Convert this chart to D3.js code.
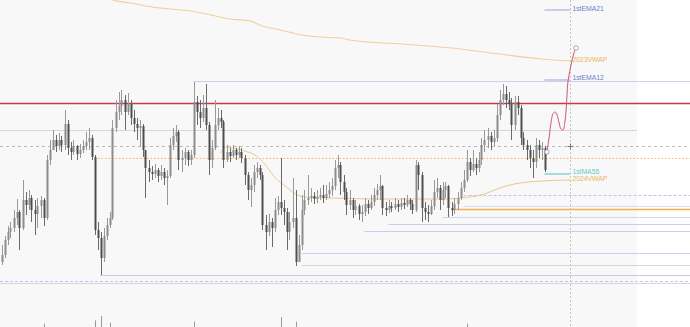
<!DOCTYPE html>
<html><head><meta charset="utf-8">
<script src="https://cdn.jsdelivr.net/npm/d3@7"></script>
<style>html,body{margin:0;padding:0;background:#fff;overflow:hidden}</style>
</head><body><svg id="c" width="690" height="327"></svg>
<script>
// ---- data (price units) ----
const open=[138,145,160,168,172,182,188,172,200,195,
202,190,186,194,200,182,240,250,260,254,
260,255,276,252,248,254,246,250,254,258,
262,243,170,162,142,164,175,182,272,288,
294,300,288,296,282,276,272,274,250,232,
228,226,230,224,228,222,224,255,264,268,
240,242,248,240,245,298,288,282,292,275,
240,252,275,282,278,240,248,244,250,245,
248,242,225,210,215,228,232,225,175,168,
178,172,190,198,192,188,168,178,182,138,
155,190,200,202,204,201,203,205,202,206,
210,214,232,235,218,208,195,200,190,194,
186,188,196,192,198,205,210,214,192,190,
194,192,196,193,197,195,200,196,190,235,
225,192,188,186,194,208,212,200,210,214,
192,190,196,202,212,220,238,230,236,232,
240,255,260,264,258,262,285,300,306,300,
296,275,298,292,262,255,250,242,238,255,
250,252];
const close=[145,160,168,172,182,188,172,200,195,202,
190,186,194,200,182,240,250,260,254,260,
255,276,252,248,254,246,250,254,258,262,
243,170,162,142,164,175,182,272,288,294,
300,288,296,282,276,272,274,250,232,228,
226,230,224,228,222,224,255,264,268,240,
242,248,240,245,298,288,282,292,275,240,
252,275,282,278,240,248,244,250,245,248,
242,225,210,215,228,232,225,175,168,178,
172,190,198,192,188,168,178,182,138,155,
190,200,202,204,201,203,205,202,206,210,
214,232,235,218,208,195,200,190,194,186,
188,196,192,198,205,210,214,192,190,194,
192,196,193,197,195,200,196,190,235,225,
192,188,186,194,208,212,200,210,214,192,
190,196,202,212,220,238,230,236,232,240,
255,260,264,258,262,285,300,306,300,296,
275,298,292,262,255,250,242,238,255,250,
252,230];
const high=[155,164,174,178,190,201,190,220,208,210,
205,200,202,204,202,245,260,270,265,267,
264,290,280,258,260,255,256,260,268,272,
265,245,178,168,172,182,188,280,300,308,
310,305,307,300,290,282,280,276,250,240,
234,236,232,235,232,230,262,272,275,270,
250,252,250,250,318,304,300,305,316,278,
260,300,292,290,280,255,252,255,252,254,
252,245,228,222,235,238,235,228,185,186,
182,202,204,242,200,192,188,222,210,165,
205,210,225,212,208,210,212,215,215,218,
222,240,245,238,225,212,210,202,200,196,
195,202,200,205,212,216,225,215,198,200,
198,202,200,202,202,205,202,200,240,238,
228,198,195,200,220,222,215,218,218,215,
198,202,208,218,230,250,242,250,242,248,
262,270,272,268,270,296,310,316,314,308,
302,304,304,295,268,260,255,250,262,260,
258,254];
const low=[135,142,155,162,168,175,150,170,185,190,
178,165,172,182,174,180,235,250,248,250,
248,250,245,240,245,240,242,247,250,250,
240,165,150,125,138,160,172,180,268,280,
285,270,285,275,268,260,253,243,202,218,
220,222,218,220,215,195,222,250,258,230,
228,235,234,235,242,275,272,278,270,225,
232,250,270,272,232,238,238,242,240,242,
237,215,200,193,208,222,220,170,150,164,
153,168,185,185,175,150,160,172,134,138,
150,185,195,198,196,197,200,197,200,202,
204,210,222,205,200,185,190,182,185,180,
178,184,186,190,194,200,200,185,184,187,
188,190,188,190,191,193,190,186,188,210,
178,180,178,185,190,202,190,195,202,183,
184,186,190,200,208,218,224,228,225,228,
235,248,252,250,254,258,280,295,292,290,
260,270,285,255,250,240,232,222,232,242,
240,228];

// volume spikes visible at the bottom edge (bar index, value)
const volIdx=[14,31,33,36,64,93,98,155];
const volVal=[300,600,1000,400,500,900,500,300];

// anchored VWAP curves (bar index, price)
const vwapTopIdx=[35,37,43,48,53,63,70,76,83,86,93,100,106,113,116,133,150,166,180,190];
const vwapTopVal=[404,400,397,394,392,389,385,381,379,375,370,365,363,362,360,356,352,346,341,339];
const vwapLowIdx=[73,75,77,81,85,88,91,95,98,101,110,126,146,156,161,166,171,180,190];
const vwapLowVal=[247,253,252,249,244,235,223,213,206,203,202,201,201,203,206,212,216,219,220];

// projection path
const projIdx=[181.8,182.5,183.2,183.8,184.5,185.2,185.8,186.5,187.2,187.8,188.2,188.5,188.8,189.5,190.2,190.8,191.5];
const projVal=[248,262,278,286,288,285,278,271,270,278,290,305,318,330,340,347,352];

// horizontal levels (price, start bar, end bar)
const levelVal =[297,270,254,242,319,205,194,191,183,176,169,147,135,125,119,117];
const levelFrom=[0,0,0,31,64,154,154,150,147,129,121,100,100,33,0,0];

// indicator labels
const labelText=["1stEMA21","2023VWAP","1stEMA12","1stMA55","2024VWAP"];
const labelVal =[391,340,322,228,221];
const markerVal=[390,320,226];

// ---- drawing ----
const svg=d3.select("#c");
const W=690,H=327;
const x=d3.scaleLinear().domain([0,229]).range([1.5,688.5]);
const y=d3.scaleLinear().domain([73,400]).range([H,0]);
const vy=d3.scaleLinear().domain([0,1000]).range([H,H-11]);

svg.append("rect").attr("width",W).attr("height",H).attr("fill","#ffffff");
svg.append("rect").attr("width",637).attr("height",H).attr("fill","#f8f8f8");

const levelStyle=[
 {c:"#c6394f",w:1.3,d:null,full:true},
 {c:"#d6d6d6",w:1,d:null,full:true},
 {c:"#bdbdbd",w:1,d:"3,3",full:true},
 {c:"#f0b560",w:1,d:"1.5,2"},
 {c:"#cfd1ea",w:1,d:null},
 {c:"#bfc3ea",w:1,d:"3,2"},
 {c:"#dcdce4",w:1,d:null},
 {c:"#f0b04c",w:1.6,d:null},
 {c:"#d4d6ee",w:1,d:null},
 {c:"#c9cdea",w:1,d:null},
 {c:"#c9cdea",w:1,d:null},
 {c:"#cdd0e8",w:1,d:null},
 {c:"#d6d6de",w:1,d:null},
 {c:"#c6c9e6",w:1,d:null},
 {c:"#c4c8e8",w:1,d:"3,2",full:true},
 {c:"#d2d5ec",w:1,d:null,full:true}
];
levelVal.forEach((v,i)=>{
  const s=levelStyle[i];
  svg.append("line")
    .attr("x1",s.full?0:x(levelFrom[i])).attr("x2",i===1?637:W)
    .attr("y1",Math.round(y(v))+0.5).attr("y2",Math.round(y(v))+0.5)
    .attr("stroke",s.c).attr("stroke-width",s.w).attr("stroke-dasharray",s.d);
});

// vertical dotted cursor line
svg.append("line").attr("x1",Math.round(x(189.5))+0.5).attr("x2",Math.round(x(189.5))+0.5)
  .attr("y1",0).attr("y2",H).attr("stroke","#c4c4c4").attr("stroke-dasharray","2,2");

// VWAP lines
const line=d3.line().x(d=>x(d[0])).y(d=>y(d[1])).curve(d3.curveMonotoneX);
svg.append("path").attr("d",line(vwapTopIdx.map((d,i)=>[d,vwapTopVal[i]])))
  .attr("fill","none").attr("stroke","#efcf9e").attr("stroke-width",1.1);
svg.append("path").attr("d",line(vwapLowIdx.map((d,i)=>[d,vwapLowVal[i]])))
  .attr("fill","none").attr("stroke","#ecc690").attr("stroke-width",1);

// volume
volIdx.forEach((d,i)=>{
  svg.append("line").attr("x1",Math.round(x(d))+0.5).attr("x2",Math.round(x(d))+0.5)
   .attr("y1",vy(volVal[i])).attr("y2",H).attr("stroke","#9a9a9a").attr("stroke-width",1);
});

// candles
const g=svg.append("g");
close.forEach((c,i)=>{
  const o=open[i];
  const top=Math.max(high[i],o,c), bot=Math.min(low[i],o,c);
  const cx=Math.round(x(i));
  const up=c>=o;
  g.append("line").attr("x1",cx+0.5).attr("x2",cx+0.5).attr("y1",y(top)).attr("y2",y(bot))
   .attr("stroke",up?"#999":"#6a6a6a").attr("stroke-width",1);
  const y0=y(Math.max(o,c)), y1=y(Math.min(o,c));
  g.append("rect").attr("x",cx-0.5).attr("width",2).attr("y",y0).attr("height",Math.max(1,y1-y0))
   .attr("fill",up?"#8c8c8c":"#4e4e4e");
});

// marker lines near labels
const markerColor=["#9aa3dc","#9aa3dc","#86d6d2"];
markerVal.forEach((v,i)=>{
  svg.append("line").attr("x1",x(181)).attr("x2",x(189.5))
   .attr("y1",y(v)).attr("y2",y(v)).attr("stroke",markerColor[i]).attr("stroke-width",i===2?1.5:1);
});

// projection
svg.append("path").attr("d",d3.line().x(d=>x(d[0])).y(d=>y(d[1])).curve(d3.curveCatmullRom)(projIdx.map((d,i)=>[d,projVal[i]])))
  .attr("fill","none").attr("stroke","#c85a78").attr("stroke-width",1);
[0,projIdx.length-1].forEach(k=>{
  svg.append("circle").attr("cx",x(projIdx[k])).attr("cy",y(projVal[k])).attr("r",2.2)
   .attr("fill","#fff").attr("stroke","#9a8aa8").attr("stroke-width",0.8);
});

// crosshair
const chx=Math.round(x(189.5))+0.5, chy=Math.round(y(254))+0.5;
svg.append("path").attr("d",`M${chx-3},${chy}H${chx+3}M${chx},${chy-3}V${chy+3}`)
  .attr("stroke","#777").attr("stroke-width",1);

// labels
const labelColor=["#6f7fcf","#eeb45c","#6f7fcf","#5fc9c6","#eeb45c"];
labelText.forEach((t,i)=>{
  svg.append("text").attr("x",x(190.3)).attr("y",y(labelVal[i]))
   .attr("dominant-baseline","middle").attr("font-family","Liberation Sans, Arial, sans-serif")
   .attr("font-size",6.8).attr("fill",labelColor[i]).text(t);
});
</script></body></html>
